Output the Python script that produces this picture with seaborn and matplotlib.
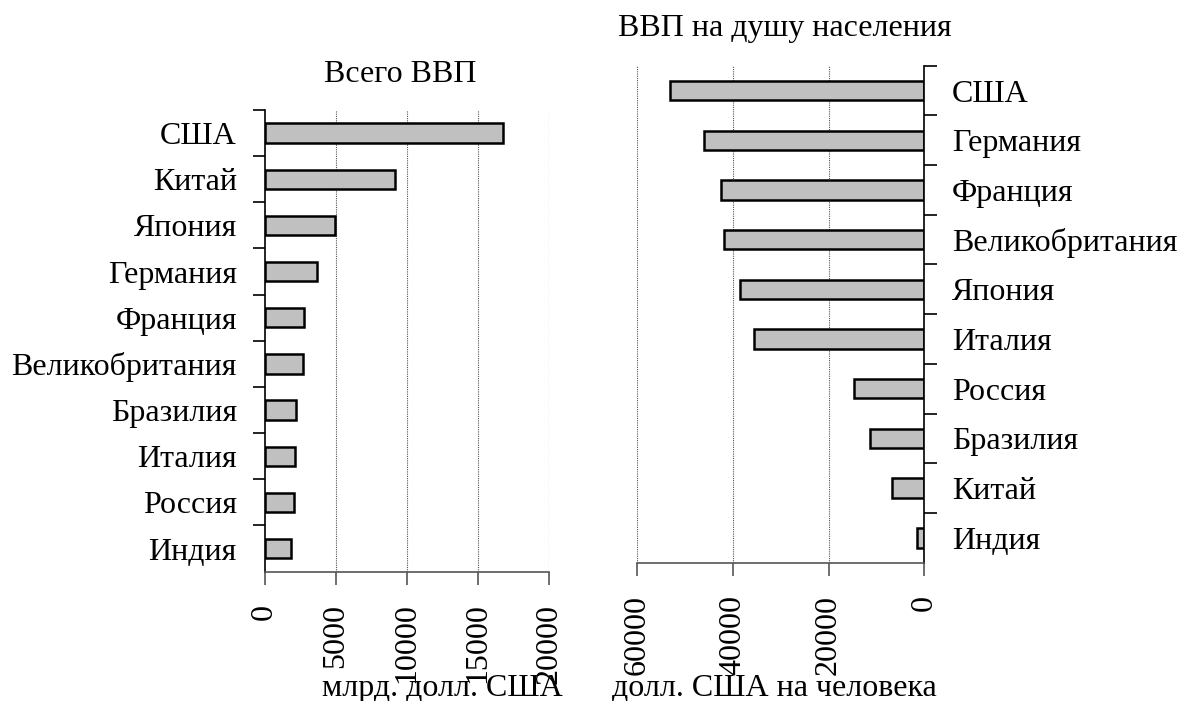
import numpy as np
import matplotlib
matplotlib.use("Agg")
import matplotlib.pyplot as plt
import seaborn as sns

# total GDP, bln USD
total_countries = ["США", "Китай", "Япония", "Германия", "Франция",
                   "Великобритания", "Бразилия", "Италия", "Россия", "Индия"]
total_gdp = [16750, 9200, 4930, 3700, 2780, 2670, 2220, 2150, 2080, 1870]
total_ticks = [0, 5000, 10000, 15000, 20000]

# GDP per capita, USD
pc_countries = ["США", "Германия", "Франция", "Великобритания", "Япония",
                "Италия", "Россия", "Бразилия", "Китай", "Индия"]
pc_gdp = [53100, 46100, 42500, 41750, 38600, 35600, 14600, 11300, 6750, 1450]
pc_ticks = [60000, 40000, 20000, 0]

sns.set_theme(style="white")
plt.rcParams['font.family'] = ['Liberation Serif', 'DejaVu Serif']
plt.rcParams['text.color'] = 'black'
FS = 23

fig = plt.figure(figsize=(11.81, 7.01), dpi=100)
ax1 = fig.add_axes([0.224, 0.1845, 0.2409, 0.6586])
ax2 = fig.add_axes([0.5394, 0.1973, 0.2433, 0.709])


def style_axis(ax, n, right=False):
    ax.set_ylim(n - 0.5, -0.5)
    ax.set_yticks(np.arange(n) - 0.5, minor=True)
    ax.tick_params(axis="y", which="major", length=0, labelsize=FS, pad=20,
                   labelcolor="black")
    ax.tick_params(axis="y", which="minor", length=9, width=1.2, color="black",
                   direction="out", left=not right, right=right)
    ax.tick_params(axis="x", which="major", length=9, width=1.2, color="#555555",
                   direction="out", labelsize=FS, labelrotation=90, pad=14,
                   labelcolor="black", bottom=True)
    ax.grid(axis="x", linestyle=(0, (1, 1)), color="#555555", linewidth=0.8)
    ax.grid(axis="y", visible=False)
    for s in ["top", "right", "left", "bottom"]:
        ax.spines[s].set_visible(False)
    ax.spines["bottom"].set_visible(True)
    ax.spines["bottom"].set_color("#555555")
    ax.spines["bottom"].set_linewidth(1.2)
    side = "right" if right else "left"
    ax.spines[side].set_visible(True)
    ax.spines[side].set_color("black")
    ax.spines[side].set_linewidth(1.2)
    ax.set_xlabel("")
    ax.set_ylabel("")


sns.barplot(x=total_gdp, y=total_countries, orient="h", ax=ax1,
            color="#c0c0c0", saturation=1, edgecolor="black", linewidth=1.8,
            width=0.42)
ax1.set_xlim(0, 20000)
ax1.set_xticks(total_ticks)
ax1.set_xticklabels([str(t) for t in total_ticks])
style_axis(ax1, len(total_countries))

sns.barplot(x=pc_gdp, y=pc_countries, orient="h", ax=ax2,
            color="#c0c0c0", saturation=1, edgecolor="black", linewidth=1.8,
            width=0.39)
ax2.set_xlim(60000, 0)
ax2.set_xticks(pc_ticks)
ax2.set_xticklabels([str(t) for t in pc_ticks])
ax2.yaxis.tick_right()
style_axis(ax2, len(pc_countries), right=True)
ax2.tick_params(axis="y", which="major", labelleft=False, labelright=True)
for g in ax1.get_xgridlines()[:1] + ax2.get_xgridlines()[-1:]:
    g.set_visible(False)

fig.text(400 / 1181, 1 - 82 / 701, "Всего ВВП", fontsize=FS, ha="center",
         va="baseline")
fig.text(785 / 1181, 1 - 36 / 701, "ВВП на душу населения", fontsize=FS,
         ha="center", va="baseline")
fig.text(442 / 1181, 1 - 696 / 701, "млрд. долл. США", fontsize=FS,
         ha="center", va="baseline")
fig.text(774 / 1181, 1 - 696 / 701, "долл. США на человека", fontsize=FS,
         ha="center", va="baseline")

fig.savefig("out.png", dpi=100)
